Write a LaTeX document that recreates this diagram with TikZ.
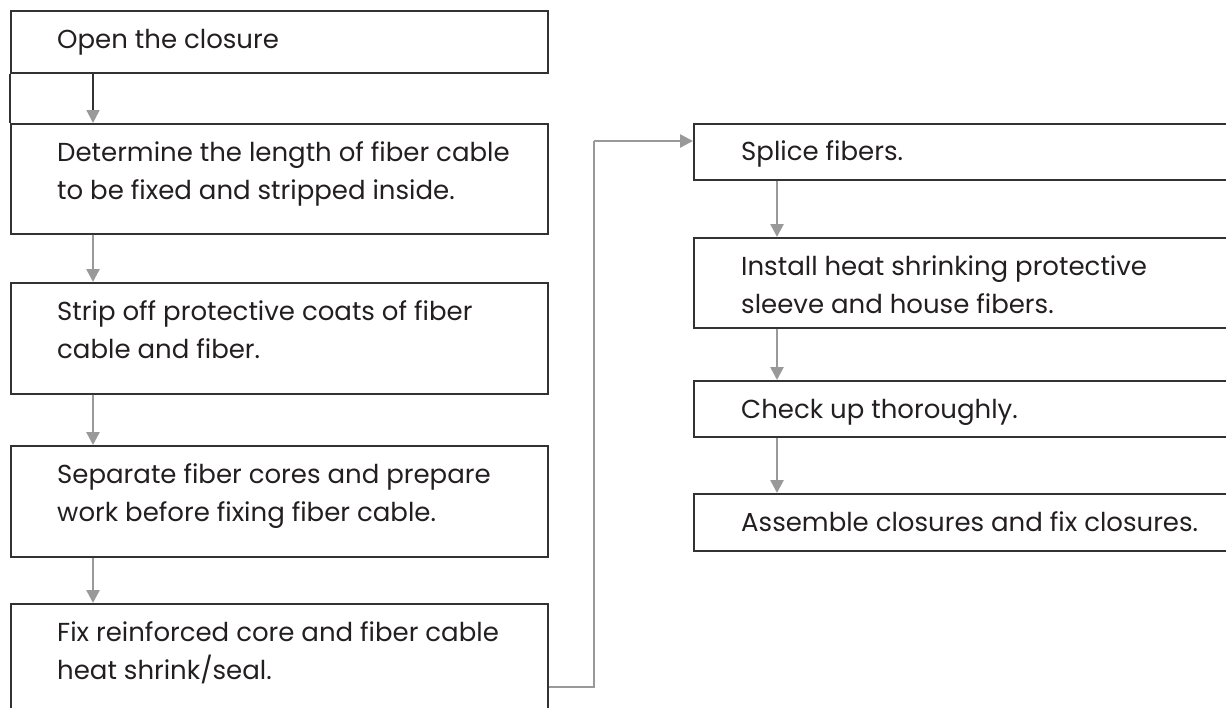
\documentclass[tikz,border=0pt]{standalone}
\usepackage{fontspec}
\setmainfont{Poppins}
\usetikzlibrary{arrows.meta,calc}
\definecolor{conn}{RGB}{153,153,153}
\definecolor{edge}{RGB}{50,50,50}
\definecolor{ink}{RGB}{35,31,32}
\begin{document}
\begin{tikzpicture}[x=1pt,y=-1pt,
  stepbox/.style={draw=edge, line width=1.6pt, rectangle, inner sep=0pt, anchor=north west},
  lbox/.style={stepbox, minimum width=537pt},
  rbox/.style={stepbox, minimum width=560pt},
  txt/.style={anchor=base west, inner sep=0pt, align=left, text=ink, font=\fontsize{26}{38}\selectfont},
  arr/.style={draw=conn, line width=2.6pt, -{Triangle[length=13pt,width=13pt,color=conn]}},
  darr/.style={draw=edge, line width=1.6pt, -{Triangle[length=13pt,width=13pt,color=conn]}},
  link/.style={draw=conn, line width=2.8pt}]
\useasboundingbox (0,0) rectangle (1226,707);
\clip (0,0) rectangle (1226,707);
% left column
\node[lbox, minimum height=62pt] (b1) at (10,10) {};
\node[lbox, minimum height=110pt] (b2) at (10,123) {};
\node[lbox, minimum height=111pt] (b3) at (10,282) {};
\node[lbox, minimum height=111pt] (b4) at (10,445) {};
\node[lbox, minimum height=111pt] (b5) at (10,603) {};
% right column
\node[rbox, minimum height=56pt] (b6) at (693,123) {};
\node[rbox, minimum height=90pt] (b7) at (693,237) {};
\node[rbox, minimum height=56pt] (b8) at (693,380) {};
\node[rbox, minimum height=57pt] (b9) at (693,493) {};
% texts (base = baseline of last line)
\node[txt] (t1) at (57,48) {Open the closure};
\node[txt] (t2) at (57,199) {Determine the length of fiber cable\\to be fixed and stripped inside.};
\node[txt] (t3) at (57,358) {Strip off protective coats of fiber\\cable and fiber.};
\node[txt] (t4) at (57,521) {Separate fiber cores and prepare\\work before fixing fiber cable.};
\node[txt] (t5) at (57,679) {Fix reinforced core and fiber cable\\heat shrink/seal.};
\node[txt] (t6) at (741,160) {Splice fibers.};
\node[txt] (t7) at (741,313) {Install heat shrinking protective\\sleeve and house fibers.};
\node[txt] (t8) at (741,418) {Check up thoroughly.};
\node[txt] (t9) at (741,531) {Assemble closures and fix closures.};
% left edge continuation
\draw[draw=edge, line width=1.6pt] (b1.south west) -- (b2.north west);
% arrows
\draw[darr] ([xshift=83pt]b1.south west) -- ([xshift=83pt]b2.north west);
\draw[arr] ([xshift=83pt]b2.south west) -- ([xshift=83pt]b3.north west);
\draw[arr] ([xshift=83pt]b3.south west) -- ([xshift=83pt]b4.north west);
\draw[arr] ([xshift=83pt]b4.south west) -- ([xshift=83pt]b5.north west);
\draw[arr] ([xshift=84pt]b6.south west) -- ([xshift=84pt]b7.north west);
\draw[arr] ([xshift=84pt]b7.south west) -- ([xshift=84pt]b8.north west);
\draw[arr] ([xshift=84pt]b8.south west) -- ([xshift=84pt]b9.north west);
% connector
\coordinate (c1) at (594,687);
\coordinate (c2) at (594,141);
\draw[link] (b5.east |- c1) -- (c1) -- (c2);
\draw[arr] (c2) -- (b6.west |- c2);
\end{tikzpicture}
\end{document}
